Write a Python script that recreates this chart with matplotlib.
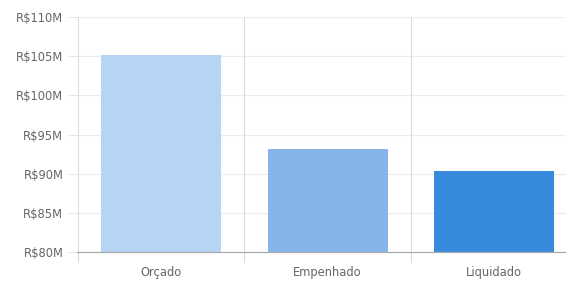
import matplotlib
matplotlib.use("Agg")
import matplotlib.pyplot as plt
from matplotlib.ticker import FuncFormatter

categories = ["Orçado", "Empenhado", "Liquidado"]
values = [105.1, 93.15, 90.4]  # millions R$
colors = ["#b6d4f3", "#85b5e8", "#378ade"]
yticks = [80, 85, 90, 95, 100, 105, 110]

plt.rcParams['font.family'] = ['DejaVu Sans']

W, H = 566, 282
fig = plt.figure(figsize=(W/100, H/100), dpi=100)
left, right, top, bottom = 77.5, 577.5, 17, 252
ax = fig.add_axes([left/W, 1 - bottom/H, (right-left)/W, (bottom-top)/H])

x = list(range(len(categories)))
ax.bar(x, [v - 80 for v in values], bottom=80, width=0.72, color=colors, zorder=2)

ax.set_xlim(-0.5, len(categories) - 0.5)
ax.set_ylim(80, 110)
ax.set_yticks(yticks)
ax.yaxis.set_major_formatter(FuncFormatter(lambda v, p: f"R${int(v)}M"))
ax.set_xticks(x)
ax.set_xticklabels(categories)

ext = 10 * 30 / 235
for yt in yticks[1:]:
    ax.axhline(yt, color="#ececec", lw=0.8, zorder=0)
for b in [0.5, 1.5]:
    ax.plot([b, b], [110, 80 - ext], color="#dcdcdc", lw=0.8, zorder=0, clip_on=False)

for s in ["top", "right"]:
    ax.spines[s].set_visible(False)
ax.spines["left"].set_color("#dcdcdc")
ax.spines["left"].set_linewidth(0.8)
ax.spines["left"].set_bounds(80 - ext, 110)
ax.spines["bottom"].set_color("#aaaaaa")
ax.spines["bottom"].set_linewidth(0.9)
ax.spines["bottom"].set_zorder(3)

ax.tick_params(axis="y", length=7.2, color="#e6e6e6", width=0.8, labelsize=8.3, labelcolor="#666666", pad=3)
ax.tick_params(axis="x", length=0, labelsize=8.3, labelcolor="#666666", pad=10)

fig.savefig("out.png", dpi=100, facecolor="white")
